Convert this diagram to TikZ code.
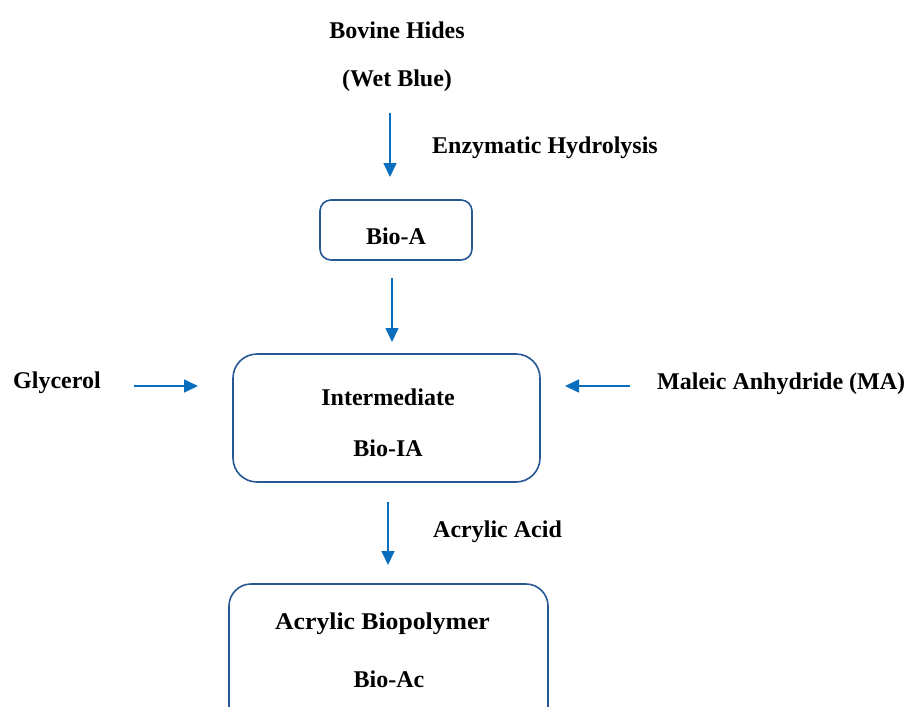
\documentclass[tikz,border=0pt]{standalone}
\usepackage{fontspec}
\setmainfont{Liberation Serif}
\usetikzlibrary{arrows.meta}
\definecolor{boxblue}{RGB}{38,88,150}
\definecolor{arrblue}{RGB}{10,110,190}
\tikzset{
  lbl/.style={font=\fontsize{24}{28}\selectfont\bfseries, inner sep=0pt, anchor=center},
  pbox/.style={draw=boxblue, line width=1.6pt, fill=white},
  flow/.style={draw=arrblue, line width=1.6pt, -{Triangle[length=14pt,width=13pt]}},
}
\begin{document}
\begin{tikzpicture}[x=1pt,y=-1pt]
\useasboundingbox (0,0) rectangle (909,706);
\clip (0,0) rectangle (909,706);
% boxes
\draw[pbox, rounded corners=11pt] (320,200) rectangle (472,260);
\node (bioa) at (396,230) [minimum width=152pt, minimum height=60pt] {};
\draw[pbox, rounded corners=24pt] (233,354) rectangle (540,482);
\node (inter) at (386.5,418) [minimum width=307pt, minimum height=128pt] {};
\draw[pbox, rounded corners=22pt] (229,584) rectangle (548,740);
\node (bioac) at (388.5,662) [minimum width=319pt, minimum height=156pt] {};
% texts
\node[lbl] (hides) at (397,30) {Bovine Hides};
\node[lbl] (wet) at (397,81) {(Wet Blue)};
\node[lbl, anchor=west] (enz) at (432,148) {Enzymatic Hydrolysis};
\node[lbl] (tbioa) at (396,236) {Bio-A};
\node[lbl] (tinter) at (388,397) {Intermediate};
\node[lbl] (tbioia) at (388,448) {Bio-IA};
\node[lbl, anchor=west] (gly) at (13,383) {Glycerol};
\node[lbl, anchor=west] (ma) at (657,384) {Maleic Anhydride (MA)};
\node[lbl, anchor=west] (aa) at (433,532) {Acrylic Acid};
\node[lbl] (tbp) at (382.5,624) {\scalebox{1.07}[1]{Acrylic Biopolymer}};
\node[lbl] (tbac) at (389,679) {Bio-Ac};
% arrows
\coordinate (a1s) at (390,113); \coordinate (a1e) at (390,177);
\coordinate (a2s) at (392,278); \coordinate (a2e) at (392,342);
\coordinate (a3s) at (388,502); \coordinate (a3e) at (388,565);
\coordinate (g1) at (134,386); \coordinate (g2) at (198,386);
\coordinate (m1) at (630,386); \coordinate (m2) at (565,386);
\draw[flow] (a1s) -- (a1e);
\draw[flow] (a2s) -- (a2e);
\draw[flow] (a3s) -- (a3e);
\draw[flow] (g1) -- (g2);
\draw[flow] (m1) -- (m2);
\end{tikzpicture}
\end{document}
